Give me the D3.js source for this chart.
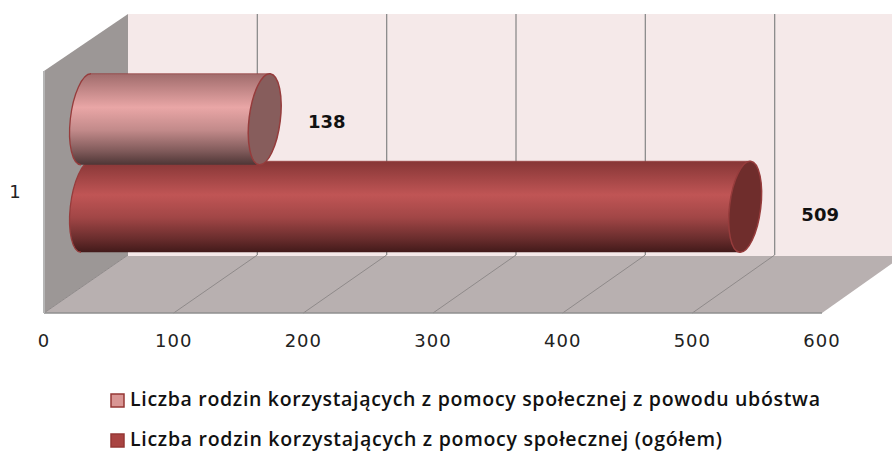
<!DOCTYPE html>
<html><head><meta charset="utf-8">
<style>html,body{margin:0;padding:0;background:#fff}svg{display:block}</style>
<script src="https://cdn.jsdelivr.net/npm/d3@7"></script></head>
<body><svg id="c" width="892" height="451"></svg>
<script>
const categories = ["1"];
const seriesNames = ["Liczba rodzin korzystających z pomocy społecznej z powodu ubóstwa","Liczba rodzin korzystających z pomocy społecznej (ogółem)"];
const seriesValues = [138, 509];
const xTicks = [0,100,200,300,400,500,600];
const seriesStops = [["#a06c6c","#e9a6a6","#4e3636"],["#863636","#c05555","#421a1a"]];
const capFill = ["#875d5c","#6f2d2c"];
const edge = ["#963c3c","#963c3c"];
const swatchFill = ["#d99694","#a94442"];

const depthY = -58;
const x = d3.scaleLinear().domain([0,600]).range([44,822]);
const xBack = d3.scaleLinear().domain([0,600]).range([128,904]);
const xMid = v => (x(v)+xBack(v))/2;
const y = d3.scaleBand().domain(categories).range([71,313]);
const yc = y(categories[0]) + y.bandwidth()/2;
const s = d3.scalePoint().domain(seriesNames).range([yc-43.75, yc+43.75]);
const svg = d3.select("#c");
const defs = svg.append("defs");

const wallTop = 14, floorY = 313, backFloor = floorY+depthY;
svg.append("rect").attr("x",xBack(0)).attr("y",wallTop).attr("width",892-xBack(0)).attr("height",backFloor-wallTop).attr("fill","#f5e9e9");
svg.append("path").attr("d",d3.line()([[x(0),71],[xBack(0),wallTop],[xBack(0),backFloor],[x(0),floorY]])).attr("fill","#9c9796");
svg.append("path").attr("d",d3.line()([[x(0),floorY],[xBack(0),backFloor],[xBack(600),backFloor],[x(600),floorY]])).attr("fill","#b8b0b0");
svg.append("line").attr("x1",xBack(0)).attr("x2",892).attr("y1",backFloor+0.5).attr("y2",backFloor+0.5).attr("stroke","#f5e9e9").attr("stroke-width",1);
xTicks.slice(1).forEach(t=>{
  svg.append("line").attr("x1",xBack(t)).attr("x2",xBack(t)).attr("y1",wallTop).attr("y2",backFloor).attr("stroke","#8c8c8c").attr("stroke-width",1.3);
  if(t<600) svg.append("line").attr("x1",x(t)).attr("y1",floorY).attr("x2",xBack(t)).attr("y2",backFloor).attr("stroke","#8f8a8a").attr("stroke-width",1);
});
svg.append("line").attr("x1",x(0)).attr("y1",floorY).attr("x2",xBack(0)).attr("y2",backFloor).attr("stroke","#8f8a8a").attr("stroke-width",1);
svg.append("line").attr("x1",x(0)).attr("x2",x(600)).attr("y1",floorY).attr("y2",floorY).attr("stroke","#8f8f8f").attr("stroke-width",1.6);
svg.append("line").attr("x1",x(0)).attr("x2",x(0)).attr("y1",71).attr("y2",floorY).attr("stroke","#b5b5b5").attr("stroke-width",2);

// cylinders: second series first, the first one overlaps it
const a=15.6,b=45.8,rot=7,off=5,hh=45.5;
seriesNames.map((n,i)=>i).reverse().forEach(i=>{
  const n=seriesNames[i], st=seriesStops[i];
  const g=defs.append("linearGradient").attr("id","g"+i).attr("x1",0).attr("y1",0).attr("x2",0).attr("y2",1);
  const mix=d3.interpolateRgb(st[1],st[2]);
  [[0,st[0]],[0.37,st[1]],[0.62,mix(0.25)],[0.85,mix(0.68)],[1,st[2]]].forEach(([o,c])=>g.append("stop").attr("offset",o).attr("stop-color",c));
  const cy=s(n)+depthY/2, c0=xMid(0), c1=xMid(seriesValues[i]);
  const arc=(px,py)=>`A${a},${b} ${rot} 0 1 ${px},${py}`;
  const d=`M${c0+off},${cy-hh}L${c1+off},${cy-hh}${arc(c1-off,cy+hh)}L${c0-off},${cy+hh}${arc(c0+off,cy-hh)}Z`;
  const grp=svg.append("g");
  grp.append("path").attr("d",d).attr("fill",`url(#g${i})`);
  grp.append("path").attr("d",`M${c0-off},${cy+hh}${arc(c0+off,cy-hh)}`).attr("fill","none").attr("stroke",edge[i]).attr("stroke-width",1.3);
  grp.append("line").attr("x1",c0+off).attr("x2",c1+off).attr("y1",cy-hh).attr("y2",cy-hh).attr("stroke",edge[i]).attr("stroke-width",1).attr("opacity",.7);
  grp.append("ellipse").attr("cx",c1).attr("cy",cy).attr("rx",a).attr("ry",b).attr("transform",`rotate(${rot} ${c1} ${cy})`).attr("fill",capFill[i]).attr("stroke",edge[i]).attr("stroke-width",1.5);
  svg.append("text").attr("x",c1+(i?75:62)).attr("y",i?216:123).attr("text-anchor","middle").attr("dominant-baseline","middle").attr("font-family","DejaVu Sans").attr("font-weight","bold").attr("font-size",18).attr("fill","#111").text(seriesValues[i]);
});

svg.selectAll(".xt").data(xTicks).enter().append("text").attr("x",d=>x(d)).attr("y",342).attr("text-anchor","middle").attr("dominant-baseline","middle").attr("font-family","DejaVu Sans").attr("font-size",18).attr("letter-spacing",1).attr("fill","#222").text(d=>d);
svg.append("text").attr("x",15).attr("y",193).attr("text-anchor","middle").attr("dominant-baseline","middle").attr("font-family","DejaVu Sans").attr("font-size",18).attr("fill","#222").text(categories[0]);

const ly=[401,441], lw=[690,592];
seriesNames.forEach((n,i)=>{
  svg.append("rect").attr("x",111).attr("y",ly[i]-7).attr("width",13).attr("height",13).attr("fill",swatchFill[i]).attr("stroke","#953735").attr("stroke-width",1.5);
  svg.append("text").attr("x",130).attr("y",ly[i]).attr("dominant-baseline","middle").attr("font-family","Open Sans").attr("font-weight","600").attr("font-size",19.5).attr("fill","#111").attr("textLength",lw[i]).attr("lengthAdjust","spacing").text(n);
});
</script></body></html>
